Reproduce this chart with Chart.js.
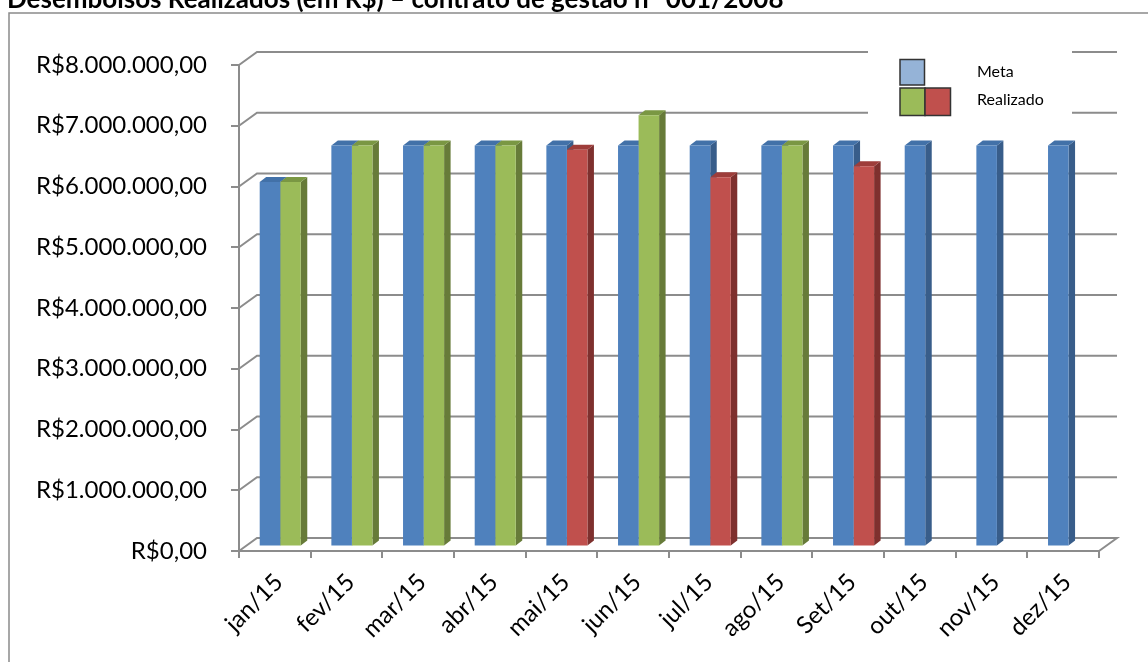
<!DOCTYPE html>
<html lang="pt-BR">
<head>
<meta charset="utf-8">
<title>Desembolsos Realizados</title>
<script src="https://cdn.jsdelivr.net/npm/chart.js@4.4.1/dist/chart.umd.min.js"></script>
<style>
  html, body { margin: 0; padding: 0; background: #fff; overflow: hidden; }
  #wrap { position: relative; width: 1148px; height: 662px; overflow: hidden; }
  #chartTitle {
    position: absolute; left: 7px; top: -15px; white-space: nowrap;
    font: bold 26px Lato, sans-serif; line-height: 26px; color: #000;
  }
  canvas { position: absolute; left: 0; top: 0; }
</style>
</head>
<body>
<div id="wrap">
  <canvas id="desembolsos" width="1148" height="662"></canvas>
  <div id="chartTitle">Desembolsos Realizados (em R$) – contrato de gestão n° 001/2008</div>
</div>
<script>
// --- dados ---
const meses = ['jan/15', 'fev/15', 'mar/15', 'abr/15', 'mai/15', 'jun/15', 'jul/15', 'ago/15', 'Set/15', 'out/15', 'nov/15', 'dez/15'];
const meta = [6000000, 6600000, 6600000, 6600000, 6600000, 6600000, 6600000, 6600000, 6600000, 6600000, 6600000, 6600000];
const realizado = [6000000, 6600000, 6600000, 6600000, 6530000, 7100000, 6080000, 6600000, 6260000, null, null, null];
const yTickLabels = ['R$0,00', 'R$1.000.000,00', 'R$2.000.000,00', 'R$3.000.000,00', 'R$4.000.000,00',
  'R$5.000.000,00', 'R$6.000.000,00', 'R$7.000.000,00', 'R$8.000.000,00'];
const legendLabels = ['Meta', 'Realizado'];

// cores (estilo Excel 2007)
const BLUE = { front: '#4F81BD', side: '#385D8A', top: '#4271A8' };
const GREEN = { front: '#9BBB59', side: '#677B39', top: '#7A9743' };
const RED = { front: '#C0504D', side: '#7E302E', top: '#9E3D3A' };
const gridColor = '#8C8C8C';
const tickFont = { family: 'Lato', size: 24 };

// verde quando atinge a meta, vermelho quando fica abaixo
const realizadoCores = realizado.map((v, i) => (v !== null && v < meta[i]) ? RED : GREEN);

// profundidade do "3D"
const depthX = 6.5, depthY = 5;      // face lateral / topo das colunas
const wallX = 18, wallY = 13;        // deslocamento da parede do fundo
const barShiftX = 5.4, barShiftY = -4.5;

const pseudo3D = {
  id: 'pseudo3D',
  beforeDraw(chart) {
    const ctx = chart.ctx;
    ctx.save();
    ctx.strokeStyle = '#8A8A8A';
    ctx.lineWidth = 1.5;
    ctx.strokeRect(9, 13, 1160, 700);
    ctx.restore();
  },
  beforeDatasetsDraw(chart) {
    const ctx = chart.ctx;
    const { left, right } = chart.chartArea;
    const ys = chart.scales.y;
    // linhas de grade na parede do fundo
    ctx.save();
    ctx.strokeStyle = gridColor;
    ctx.lineWidth = 2;
    ys.ticks.forEach(t => {
      const y = ys.getPixelForValue(t.value);
      ctx.beginPath();
      ctx.moveTo(left, y);
      ctx.lineTo(left + wallX, y - wallY);
      ctx.lineTo(right + wallX, y - wallY);
      if (t.value === 0) ctx.lineTo(right, y);
      ctx.stroke();
    });
    ctx.restore();

    // faces laterais e topos das colunas
    ctx.save();
    ctx.translate(barShiftX, barShiftY);
    const m0 = chart.getDatasetMeta(0), m1 = chart.getDatasetMeta(1);
    meses.forEach((_, i) => {
      [[m0.data[i], BLUE, meta[i]], [m1.data[i], realizadoCores[i], realizado[i]]].forEach(([el, c, v]) => {
        if (!el || v === null) return;
        const p = el.getProps(['x', 'y', 'base', 'width'], true);
        const l = p.x - p.width / 2, r = p.x + p.width / 2;
        ctx.fillStyle = c.side;
        ctx.beginPath();
        ctx.moveTo(r, p.y); ctx.lineTo(r + depthX, p.y - depthY);
        ctx.lineTo(r + depthX, p.base - depthY); ctx.lineTo(r, p.base);
        ctx.closePath(); ctx.fill();
        ctx.fillStyle = c.top;
        ctx.beginPath();
        ctx.moveTo(l, p.y); ctx.lineTo(l + depthX, p.y - depthY);
        ctx.lineTo(r + depthX, p.y - depthY); ctx.lineTo(r, p.y);
        ctx.closePath(); ctx.fill();
      });
    });
  },
  afterDatasetsDraw(chart) {
    chart.ctx.restore();
  },
  afterDraw(chart) {
    const ctx = chart.ctx;
    ctx.save();
    ctx.fillStyle = '#fff';
    ctx.fillRect(868, 36, 204, 92);
    ctx.lineWidth = 1.5;
    ctx.strokeStyle = '#333';
    ctx.fillStyle = '#95B3D7';
    ctx.fillRect(900, 59.5, 24.5, 25.5); ctx.strokeRect(900, 59.5, 24.5, 25.5);
    ctx.fillStyle = GREEN.front;
    ctx.fillRect(900, 88, 25, 27.5); ctx.strokeRect(900, 88, 25, 27.5);
    ctx.fillStyle = RED.front;
    ctx.fillRect(925, 88, 25.5, 27.5); ctx.strokeRect(925, 88, 25.5, 27.5);
    ctx.fillStyle = '#000';
    ctx.font = '16px Lato';
    ctx.textBaseline = 'middle';
    ctx.fillText(legendLabels[0], 977, 72);
    ctx.fillText(legendLabels[1], 977, 99.5);
    ctx.restore();
  }
};

new Chart(document.getElementById('desembolsos'), {
  type: 'bar',
  data: {
    labels: meses,
    datasets: [
      { label: legendLabels[0], data: meta, backgroundColor: BLUE.front, clip: false },
      { label: legendLabels[1], data: realizado, backgroundColor: realizadoCores.map(c => c.front), clip: false }
    ]
  },
  options: {
    responsive: false,
    animation: false,
    devicePixelRatio: 1,
    layout: { padding: { top: 65, right: 49, left: 0, bottom: 0 } },
    datasets: { bar: { categoryPercentage: 0.573, barPercentage: 1 } },
    plugins: { legend: { display: false }, tooltip: { enabled: false } },
    scales: {
      x: {
        offset: true,
        grid: { offset: true, drawOnChartArea: false, tickLength: 7, color: gridColor, lineWidth: 2 },
        border: { color: gridColor, width: 2 },
        ticks: { font: tickFont, color: '#000', minRotation: 45, maxRotation: 45, padding: 10, labelOffset: 4 },
        afterFit: s => { s.height = 111; }
      },
      y: {
        min: 0, max: 8000000,
        grid: { drawOnChartArea: false, tickLength: 8, color: gridColor, lineWidth: 2 },
        border: { color: gridColor, width: 2 },
        ticks: { stepSize: 1000000, font: tickFont, color: '#000', padding: 24,
          callback: (v, i) => yTickLabels[i] },
        afterFit: s => { s.width = 239; }
      }
    }
  },
  plugins: [pseudo3D]
});
</script>
</body>
</html>
